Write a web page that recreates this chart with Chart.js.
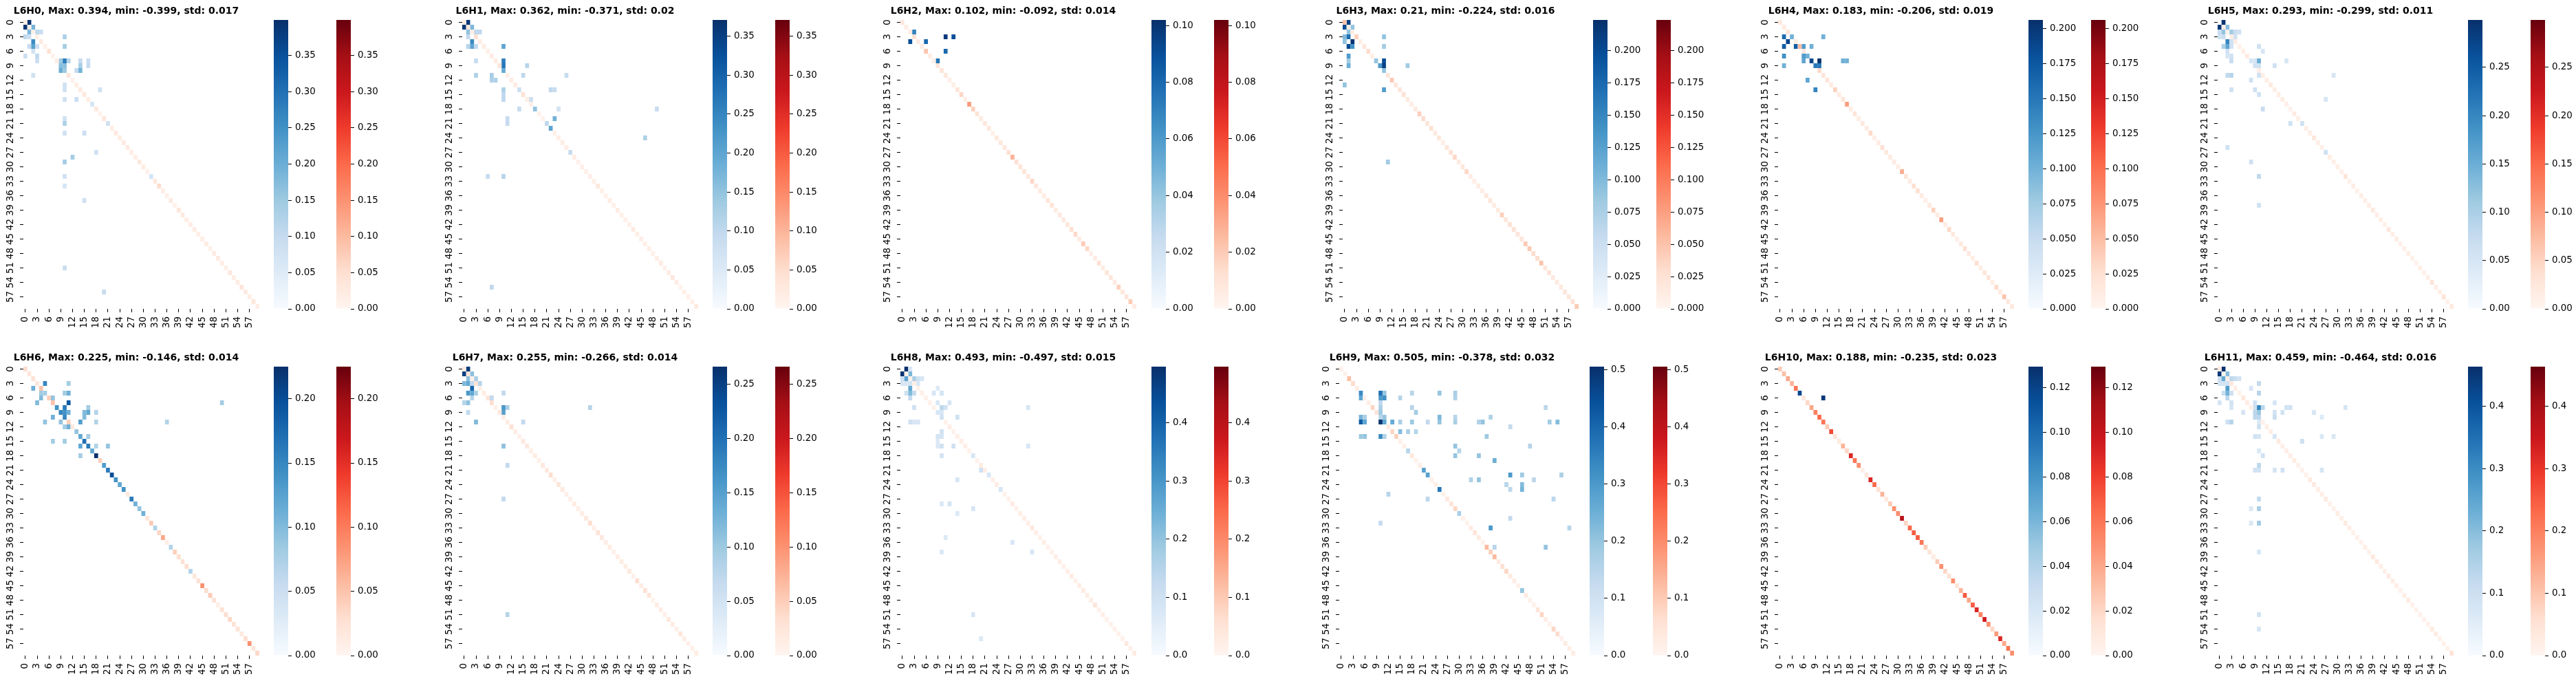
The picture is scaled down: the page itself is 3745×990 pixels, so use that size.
<!DOCTYPE html>
<html><head><meta charset="utf-8">
<style>html,body{margin:0;padding:0;background:#fff;overflow:hidden}canvas{position:absolute}</style>
<script src="https://cdn.jsdelivr.net/npm/chart.js@4/dist/chart.umd.js"></script>
</head><body>
<script>
// ---------- values ----------
const headNames = ['L6H0','L6H1','L6H2','L6H3','L6H4','L6H5','L6H6','L6H7','L6H8','L6H9','L6H10','L6H11'];
const titles = [
 'L6H0, Max: 0.394, min: -0.399, std: 0.017','L6H1, Max: 0.362, min: -0.371, std: 0.02',
 'L6H2, Max: 0.102, min: -0.092, std: 0.014','L6H3, Max: 0.21, min: -0.224, std: 0.016',
 'L6H4, Max: 0.183, min: -0.206, std: 0.019','L6H5, Max: 0.293, min: -0.299, std: 0.011',
 'L6H6, Max: 0.225, min: -0.146, std: 0.014','L6H7, Max: 0.255, min: -0.266, std: 0.014',
 'L6H8, Max: 0.493, min: -0.497, std: 0.015','L6H9, Max: 0.505, min: -0.378, std: 0.032',
 'L6H10, Max: 0.188, min: -0.235, std: 0.023','L6H11, Max: 0.459, min: -0.464, std: 0.016'];
const scaleMax = [0.399,0.371,0.102,0.224,0.206,0.299,0.225,0.266,0.497,0.505,0.1295,0.464];
const axisTicks = [0,3,6,9,12,15,18,21,24,27,30,33,36,39,42,45,48,51,54,57];
const cbarTicks = [
 ['0.00','0.05','0.10','0.15','0.20','0.25','0.30','0.35'],
 ['0.00','0.05','0.10','0.15','0.20','0.25','0.30','0.35'],
 ['0.00','0.02','0.04','0.06','0.08','0.10'],
 ['0.000','0.025','0.050','0.075','0.100','0.125','0.150','0.175','0.200'],
 ['0.000','0.025','0.050','0.075','0.100','0.125','0.150','0.175','0.200'],
 ['0.00','0.05','0.10','0.15','0.20','0.25'],
 ['0.00','0.05','0.10','0.15','0.20'],
 ['0.00','0.05','0.10','0.15','0.20','0.25'],
 ['0.0','0.1','0.2','0.3','0.4'],
 ['0.0','0.1','0.2','0.3','0.4','0.5'],
 ['0.00','0.02','0.04','0.06','0.08','0.10','0.12'],
 ['0.0','0.1','0.2','0.3','0.4']];

// red diagonal values, index = row = column (0 = that diagonal cell is not red)
const L6H0_diag=[.02,.01,.01,.015,.025,.012,.045,.01,.02,0,0,.035,.01,.02,.025,.03,.02,0,.03,.01,.035,0,.02,.025,.02,.025,.025,.02,.02,.03,.02,.012,0,.03,.055,.02,.015,.025,.01,.035,.025,.02,.02,.02,.015,.02,.02,.012,.025,.025,.02,.015,.03,.02,.02,.04,.025,.02,.035,.02];
const L6H1_diag=[.02,.03,.015,.045,.02,.02,.012,.02,.02,.035,0,.015,.02,.02,0,.04,.015,.015,0,.01,.01,0,0,.012,.015,.02,.015,0,.015,.01,.015,.012,.015,.012,.03,.012,.012,.02,.012,.02,.012,.012,.012,.025,.015,.015,.015,.015,.01,.015,.025,.012,.02,.03,.02,.008,.012,.012,.012,.025];
const L6H2_diag=[.008,.005,.005,.012,.006,.005,.022,.005,.005,.01,.01,.008,.004,.004,.01,.016,.004,.035,.018,.01,.006,.008,.008,.003,.008,.008,.008,.012,.028,.012,.01,.01,.008,.016,.008,.006,.005,.01,.01,.005,.007,.007,.008,.012,.015,.006,.02,.016,.004,.005,.012,.005,.01,.008,.006,.018,.008,.01,.02,.006];
const L6H3_diag=[.05,.01,.01,.04,.01,.02,.03,.01,0,0,0,.02,.045,.02,.02,.025,.015,.01,.015,.04,.03,.02,.025,.015,.02,.01,.02,.025,.035,.015,.02,.035,.012,.01,.012,.012,.02,.02,.012,.015,.04,.02,.025,.025,.02,.02,.045,.045,.03,.03,.05,.02,.025,.015,.015,.015,.02,.02,.025,.045];
const L6H4_diag=[.015,.012,.02,0,.01,.05,.015,0,0,0,.03,.02,.02,.012,.035,.012,.02,.07,.01,.02,.01,.015,.012,.03,.008,.012,.025,.015,.012,.012,.01,.06,.02,.012,.025,.025,.012,.008,.015,.035,.012,.07,.01,.03,.015,.008,.015,.025,.015,.01,.025,.01,.02,.02,.01,.03,.012,.045,.015,.015];
const L6H5_diag=[0,.01,.005,.015,.015,.008,.012,.02,0,0,.015,.01,.012,.02,.012,.015,.015,.01,.008,.018,.012,0,.012,.012,.025,.012,.01,0,.015,.012,.012,.01,.03,.008,.015,.008,.012,.012,.012,.02,.012,.012,.008,.025,.012,.015,.01,.01,.015,.008,.008,.012,.008,.012,.03,.012,.012,.03,.008,.02];
const L6H6_diag=[.03,.02,.025,.02,.05,0,.04,.05,0,0,0,.04,.015,0,0,0,0,0,0,.04,0,0,0,0,0,0,.015,0,0,0,0,.02,.045,0,.035,.07,.01,0,.04,.03,.025,.03,0,.02,.025,.085,.03,.045,.025,.008,.025,.03,.035,.025,.025,.015,.03,.085,.02,.035];
const L6H7_diag=[.015,.025,.008,.03,.008,.015,.025,.035,.01,.02,.012,.015,.03,.012,.008,.02,.02,.01,.015,.008,.02,.02,.035,.01,.025,.02,.01,.01,.015,.01,.012,.02,.035,.01,.03,.02,.012,.015,.008,.012,.015,.015,.02,.008,.035,.012,.03,.025,.005,.015,.012,.01,.02,.015,.01,.025,.012,.01,.01,.015];
const L6H8_diag=[0,.01,.015,.02,.015,.02,.015,.012,.01,0,0,.012,.02,.012,.02,.02,.02,.012,0,.012,.03,.02,0,.02,.025,0,.012,.012,.03,.015,.02,.02,.02,.04,.02,.012,.02,.015,.012,.02,.02,.015,.02,.03,.012,.02,.03,.025,.02,.05,.012,.02,.012,.012,.015,.012,.015,.035,.015,.03];
const L6H9_diag=[.015,.01,.12,.07,.02,0,.015,.02,.08,.05,0,0,.03,.08,.09,.015,.015,0,.04,.01,.02,0,0,.015,.02,0,.01,.035,.05,.08,0,.012,.012,.03,.05,.03,.012,.13,.09,.13,.03,.06,.08,.03,.025,.012,0,.03,.015,.012,.05,.08,.02,.012,.08,.07,.015,.03,.02,.025];
const L6H10_diag=[.025,.03,.04,.035,.06,0,.01,.02,.04,.055,.065,.06,.025,.075,.012,.008,.035,.02,.09,.06,.05,.005,.012,.09,.065,.015,.035,.01,.025,.05,.05,.105,.02,.065,.07,.07,.06,.025,.012,.008,.025,.05,.02,.015,.05,.012,.035,.07,.04,.07,.09,.055,.095,.05,.02,.045,.09,.04,.06,.05];
const L6H11_diag=[.03,.005,.02,.04,.02,.01,.04,.025,.015,0,0,.012,.02,.02,0,.03,.02,.02,.02,.025,.012,.012,.012,.03,.03,.02,.02,.03,.012,.012,.025,.015,.03,.02,.012,.015,.012,.02,.012,.035,.03,.02,.015,.03,.02,.02,.012,.02,.03,.012,.012,.01,.012,.012,.03,.025,.01,.012,.012,.05];

// blue cells: [row, column, value]
const L6H0_cells=[[0,1,.394],[1,0,.39],[1,2,.19],[2,1,.18],[2,3,.11],[2,4,.09],[3,0,.11],[3,1,.09],[3,10,.13],[4,2,.26],[5,1,.1],[5,2,.22],[5,3,.09],[5,10,.14],[6,2,.08],[7,0,.09],[7,3,.11],[8,3,.09],[8,9,.15],[8,10,.28],[8,11,.12],[8,14,.1],[8,16,.09],[9,9,.17],[9,10,.17],[9,14,.14],[9,16,.1],[10,9,.2],[10,10,.15],[10,13,.1],[10,14,.19],[11,2,.08],[13,10,.08],[14,10,.08],[14,19,.08],[16,10,.08],[16,13,.09],[17,17,.07],[20,10,.08],[21,10,.13],[21,21,.08],[23,10,.08],[23,15,.09],[27,18,.08],[28,12,.14],[29,10,.14],[32,10,.08],[32,32,.07],[34,10,.07],[37,15,.08],[51,10,.09],[56,20,.1]];
const L6H1_cells=[[0,1,.362],[1,0,.36],[1,2,.17],[2,1,.15],[2,3,.1],[2,4,.1],[3,1,.1],[4,2,.24],[5,1,.11],[5,2,.2],[5,3,.1],[5,10,.2],[8,3,.09],[8,10,.26],[9,10,.27],[9,16,.11],[10,10,.19],[11,3,.12],[11,7,.13],[11,15,.1],[11,26,.09],[12,7,.12],[12,8,.12],[14,10,.12],[14,14,.08],[14,22,.1],[14,23,.09],[15,10,.1],[16,10,.1],[16,17,.08],[18,14,.09],[18,18,.15],[18,24,.07],[18,49,.09],[20,11,.09],[20,23,.18],[21,11,.09],[21,21,.1],[22,22,.2],[24,46,.12],[27,27,.09],[32,6,.09],[32,10,.11],[55,7,.1]];
const L6H2_cells=[[2,3,.07],[3,11,.098],[3,13,.09],[4,2,.09],[4,6,.08],[6,11,.08],[8,9,.075]];
const L6H3_cells=[[0,1,.21],[1,0,.2],[1,2,.09],[2,1,.09],[3,0,.1],[3,1,.17],[3,10,.09],[4,0,.09],[4,2,.22],[5,1,.2],[5,2,.14],[5,10,.08],[7,1,.13],[8,1,.08],[8,8,.09],[8,10,.2],[9,1,.11],[9,9,.13],[9,10,.21],[9,16,.08],[10,10,.09],[13,0,.09],[14,10,.13],[29,11,.08]];
const L6H4_cells=[[3,1,.16],[3,3,.1],[3,11,.1],[4,2,.19],[5,1,.17],[5,4,.17],[5,6,.12],[5,8,.1],[7,1,.13],[7,6,.12],[7,7,.1],[8,6,.11],[8,8,.19],[8,10,.205],[8,16,.1],[8,17,.1],[9,1,.1],[9,9,.15],[9,10,.15],[12,7,.11],[14,9,.14]];
const L6H5_cells=[[0,1,.293],[1,0,.29],[1,2,.13],[2,0,.07],[2,1,.12],[2,3,.11],[2,4,.07],[2,5,.06],[3,0,.06],[3,1,.07],[3,4,.06],[4,2,.2],[4,3,.06],[5,1,.1],[5,2,.16],[5,3,.06],[5,10,.06],[6,2,.06],[6,11,.05],[7,2,.05],[7,3,.06],[8,3,.07],[8,8,.05],[8,9,.05],[8,10,.15],[8,17,.05],[9,9,.06],[9,10,.06],[9,14,.06],[11,2,.08],[11,3,.09],[11,10,.06],[11,29,.05],[12,8,.06],[14,3,.06],[14,9,.06],[15,10,.06],[16,27,.05],[18,11,.07],[21,18,.06],[21,21,.06],[26,2,.06],[27,27,.06],[29,8,.06],[32,10,.08],[38,10,.06]];
const L6H6_cells=[[3,5,.15],[3,11,.08],[4,2,.11],[5,4,.08],[5,5,.08],[5,10,.08],[5,11,.11],[6,4,.1],[6,7,.09],[7,3,.1],[7,11,.19],[7,50,.08],[8,8,.14],[8,10,.16],[8,16,.08],[9,9,.15],[9,10,.14],[9,11,.11],[9,15,.1],[9,16,.12],[9,18,.07],[10,7,.11],[10,10,.15],[10,15,.1],[11,5,.09],[11,9,.09],[11,14,.13],[11,18,.07],[11,36,.07],[12,10,.08],[12,11,.11],[13,13,.09],[14,14,.12],[14,16,.08],[15,7,.08],[15,10,.08],[15,15,.17],[16,14,.12],[16,16,.16],[16,18,.07],[16,21,.09],[17,17,.12],[18,14,.08],[18,18,.225],[20,20,.13],[21,21,.16],[22,22,.2],[23,23,.14],[24,24,.12],[25,25,.14],[27,27,.16],[28,28,.11],[29,29,.09],[30,30,.11],[33,33,.07],[37,37,.07],[42,42,.07]];
const L6H7_cells=[[0,1,.255],[1,0,.25],[1,2,.11],[2,1,.11],[2,3,.09],[3,0,.12],[3,1,.14],[3,2,.07],[3,4,.08],[4,2,.21],[5,1,.16],[5,2,.14],[5,3,.09],[5,10,.07],[6,2,.08],[6,7,.07],[7,0,.08],[7,1,.11],[8,10,.16],[8,11,.09],[8,32,.08],[9,1,.07],[9,10,.15],[11,3,.12],[11,15,.07],[16,10,.11],[20,11,.07],[27,10,.07],[51,11,.08]];
const L6H8_cells=[[0,1,.493],[0,2,.08],[1,0,.49],[1,2,.23],[2,0,.1],[2,1,.27],[2,3,.17],[2,4,.1],[2,5,.08],[3,0,.08],[3,1,.08],[3,2,.09],[3,4,.08],[4,2,.26],[4,9,.07],[5,1,.1],[5,2,.22],[5,3,.13],[5,8,.08],[5,10,.09],[6,2,.13],[7,9,.08],[7,12,.08],[8,3,.1],[8,10,.14],[8,11,.1],[8,32,.08],[9,9,.08],[9,10,.08],[10,10,.1],[10,14,.1],[11,2,.1],[11,3,.08],[11,4,.08],[13,10,.1],[14,9,.09],[14,10,.09],[15,9,.07],[16,9,.07],[16,10,.1],[16,13,.1],[16,32,.08],[18,10,.09],[18,18,.08],[21,20,.1],[22,22,.08],[23,14,.08],[25,25,.08],[28,10,.07],[28,12,.09],[29,18,.08],[30,14,.07],[35,11,.07],[36,28,.08],[38,10,.07],[38,33,.08],[51,18,.08],[56,20,.07]];
const L6H9_cells=[[5,5,.33],[5,10,.38],[5,11,.2],[5,18,.15],[5,25,.2],[5,29,.17],[6,5,.27],[6,10,.3],[6,11,.32],[6,15,.15],[6,29,.16],[7,10,.14],[8,10,.17],[8,18,.15],[8,52,.14],[9,10,.19],[9,19,.18],[10,5,.24],[10,6,.17],[10,10,.15],[10,11,.2],[10,25,.23],[10,29,.15],[10,38,.16],[11,5,.42],[11,6,.27],[11,10,.5],[11,11,.27],[11,13,.26],[11,15,.17],[11,18,.19],[11,22,.13],[11,25,.2],[11,29,.17],[11,35,.16],[11,36,.2],[11,53,.18],[11,55,.22],[12,43,.13],[13,15,.22],[13,17,.17],[13,19,.15],[14,5,.19],[14,6,.2],[14,10,.33],[14,11,.16],[14,37,.19],[16,29,.2],[16,48,.15],[17,17,.15],[17,30,.15],[18,29,.2],[18,35,.2],[19,39,.25],[21,21,.28],[22,22,.28],[22,43,.3],[22,46,.19],[22,56,.17],[23,33,.16],[23,35,.2],[23,49,.14],[24,42,.15],[24,46,.22],[25,25,.37],[25,43,.14],[25,46,.24],[26,12,.15],[27,22,.14],[27,54,.14],[30,30,.17],[31,43,.13],[32,10,.13],[33,38,.3],[33,58,.15],[37,39,.15],[37,52,.2],[46,46,.2]];
const L6H10_cells=[[5,5,.118],[6,11,.125]];
const L6H11_cells=[[0,1,.459],[1,0,.45],[1,2,.2],[2,0,.1],[2,1,.24],[2,3,.13],[2,4,.11],[2,5,.09],[3,0,.09],[3,1,.09],[3,2,.09],[3,10,.12],[4,2,.27],[4,8,.08],[5,1,.11],[5,2,.22],[5,3,.1],[5,10,.14],[6,2,.13],[7,0,.08],[7,3,.09],[7,9,.09],[7,14,.08],[8,3,.08],[8,9,.1],[8,10,.31],[8,11,.13],[8,17,.09],[8,18,.09],[8,32,.08],[9,6,.08],[9,9,.13],[9,10,.18],[9,14,.09],[9,16,.09],[9,24,.08],[10,9,.13],[10,10,.13],[10,14,.11],[10,26,.06],[11,2,.1],[11,3,.14],[11,10,.07],[12,10,.1],[14,9,.09],[14,10,.08],[14,14,.08],[14,26,.07],[14,29,.07],[15,21,.1],[17,10,.07],[18,11,.09],[20,10,.13],[21,9,.09],[21,10,.09],[21,14,.08],[21,16,.09],[21,26,.08],[27,10,.12],[29,8,.07],[29,10,.16],[32,8,.07],[32,10,.17],[38,10,.08],[51,10,.09],[54,10,.08]];

const diagonals=[L6H0_diag,L6H1_diag,L6H2_diag,L6H3_diag,L6H4_diag,L6H5_diag,L6H6_diag,L6H7_diag,L6H8_diag,L6H9_diag,L6H10_diag,L6H11_diag];
const blueCells=[L6H0_cells,L6H1_cells,L6H2_cells,L6H3_cells,L6H4_cells,L6H5_cells,L6H6_cells,L6H7_cells,L6H8_cells,L6H9_cells,L6H10_cells,L6H11_cells];

// ---------- layout and style ----------
const heatLeft=[34,672,1309,1952,2585,3224,34,672,1309,1947,2585,3224];
const blueLeft=[398,1036,1674,2316,2949,3588,398,1036,1674,2311,2949,3588];
const redLeft =[489,1127,1765,2408,3040,3679,489,1127,1765,2403,3040,3679];
const rowTop=[29,533];
const HEAT_W=343,HEAT_H=420,BAR_W=21,AXIS_W=44,AXIS_H=36,TITLE_H=21,SIDE=12;
const FONT='"DejaVu Sans"',TICK_SIZE=13.4,TITLE_SIZE=14;
const BLUES=['#f7fbff','#deebf7','#c6dbef','#9ecae1','#6baed6','#4292c6','#2171b5','#08519c','#08306b'];
const REDS =['#fff5f0','#fee0d2','#fcbba1','#fc9272','#fb6a4a','#ef3b2c','#cb181d','#a50f15','#67000d'];
const hex=h=>[1,3,5].map(i=>parseInt(h.slice(i,i+2),16));
function cmap(stops,t){
  t=Math.max(0,Math.min(1,t))*(stops.length-1);
  const i=Math.min(Math.floor(t),stops.length-2),f=t-i,a=hex(stops[i]),b=hex(stops[i+1]);
  return `rgb(${a.map((v,k)=>Math.round(v+(b[k]-v)*f)).join(',')})`;
}
function addCanvas(left,top,w,h){
  const c=document.createElement('canvas');
  c.width=w;c.height=h;c.style.left=left+'px';c.style.top=top+'px';c.style.width=w+'px';c.style.height=h+'px';
  document.body.appendChild(c);return c;
}
function zeroPad(s){s.paddingTop=s.paddingBottom=s.paddingLeft=s.paddingRight=0;}
const base={responsive:false,animation:false,devicePixelRatio:1,maintainAspectRatio:false};
const cellLabels=Array.from({length:60},(_,i)=>String(i));

function heatmap(p){
  const row=p<6?0:1,vmax=scaleMax[p];
  const L=heatLeft[p]-AXIS_W,T=rowTop[row]-TITLE_H;
  const cv=addCanvas(L,T,AXIS_W+HEAT_W+AXIS_W,TITLE_H+HEAT_H+AXIS_H);
  const cell=(r,c,v)=>({x:String(c),y:[r-0.5,r+0.5],v});
  const red=diagonals[p].map((v,i)=>v>0?cell(i,i,v):null).filter(Boolean);
  const blue=blueCells[p].map(a=>cell(a[0],a[1],a[2]));
  const ds=(data,stops)=>({data,grouped:false,barPercentage:1,categoryPercentage:1,borderWidth:0,inflateAmount:0,
    backgroundColor:ctx=>ctx.raw?cmap(stops,ctx.raw.v/vmax):'#fff'});
  new Chart(cv,{type:'bar',data:{labels:cellLabels,datasets:[ds(red,REDS),ds(blue,BLUES)]},options:{...base,
    layout:{padding:{left:0,right:AXIS_W,top:0,bottom:0}},
    plugins:{legend:{display:false},tooltip:{enabled:false},
      title:{display:true,text:titles[p],color:'#000',position:'top',align:'center',
        padding:{top:0,bottom:5},font:{family:FONT,size:TITLE_SIZE,weight:'bold',lineHeight:'16px'}}},
    scales:{
      x:{type:'category',position:'bottom',offset:true,afterFit:s=>{s.height=AXIS_H;zeroPad(s);},
        border:{display:false},
        grid:{drawOnChartArea:false,drawTicks:true,tickLength:5,offset:false,lineWidth:1,
          tickColor:ctx=>(ctx.index%3===0?'#000':'rgba(0,0,0,0)')},
        ticks:{autoSkip:false,minRotation:90,maxRotation:90,padding:6,color:'#000',font:{family:FONT,size:TICK_SIZE},
          callback:(v,i)=>(axisTicks.includes(i)?String(i):'')}},
      y:{type:'linear',position:'left',reverse:true,min:-0.5,max:59.5,bounds:'data',
        afterFit:s=>{s.width=AXIS_W;zeroPad(s);},
        afterBuildTicks:s=>{s.ticks=axisTicks.map(v=>({value:v}));},
        border:{display:false},
        grid:{drawOnChartArea:false,drawTicks:true,tickLength:5,lineWidth:1,tickColor:'#000'},
        ticks:{autoSkip:false,minRotation:90,maxRotation:90,crossAlign:'center',padding:5,color:'#000',
          font:{family:FONT,size:TICK_SIZE},callback:v=>String(v)}}
    }}});
}
function colorbar(p,left,stops){
  const row=p<6?0:1,vmax=scaleMax[p],labels=cbarTicks[p];
  const cv=addCanvas(left,rowTop[row]-SIDE,BAR_W+AXIS_W+20,HEAT_H+2*SIDE);
  new Chart(cv,{type:'bar',data:{labels:[''],datasets:[{data:[[0,vmax]],barPercentage:1,categoryPercentage:1,borderWidth:0,inflateAmount:0,
      backgroundColor:ctx=>{
        const a=ctx.chart.chartArea;if(!a)return stops[0];
        const g=ctx.chart.ctx.createLinearGradient(0,a.bottom,0,a.top);
        stops.forEach((s,i)=>g.addColorStop(i/(stops.length-1),s));return g;}}]},
    options:{...base,layout:{padding:{top:SIDE,bottom:SIDE,left:0,right:0}},
      plugins:{legend:{display:false},tooltip:{enabled:false},title:{display:false}},
      scales:{
        x:{display:false,offset:true},
        y:{type:'linear',position:'right',min:0,max:vmax,bounds:'data',
          afterFit:s=>{s.width=AXIS_W+20;zeroPad(s);},
          afterBuildTicks:s=>{s.ticks=labels.map(v=>({value:parseFloat(v)}));},
          border:{display:false},
          grid:{drawOnChartArea:false,drawTicks:true,tickLength:5,lineWidth:1,tickColor:'#000'},
          ticks:{autoSkip:false,padding:5,color:'#000',font:{family:FONT,size:TICK_SIZE},
            callback:(v,i)=>labels[i]}}
      }}});
}
headNames.forEach((_,p)=>{heatmap(p);colorbar(p,blueLeft[p],BLUES);colorbar(p,redLeft[p],REDS);});
</script>
</body></html>
